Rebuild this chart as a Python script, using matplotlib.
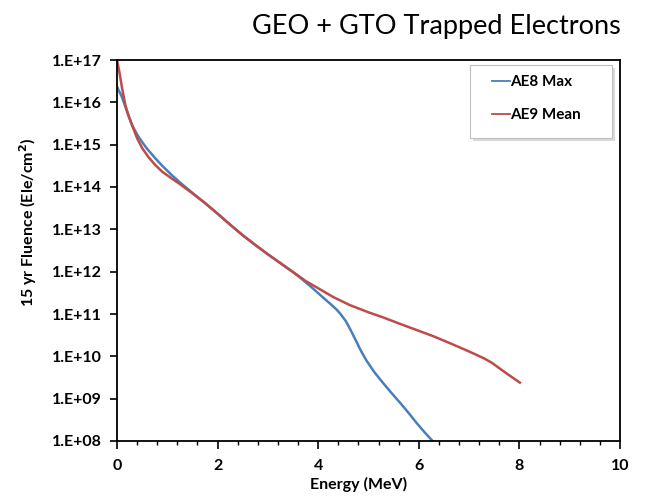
import matplotlib
matplotlib.use("Agg")
import matplotlib.pyplot as plt
import numpy as np
from matplotlib.patches import Rectangle
from matplotlib.ticker import FixedLocator, FuncFormatter, MultipleLocator, LogLocator, NullFormatter

# AE8 Max trapped electron fluence (log10 of ele/cm^2) vs energy (MeV)
ae8_energy = [0.0, 0.1, 0.2, 0.3, 0.4, 0.5, 0.6, 0.76, 0.9, 1.09, 1.25, 1.5, 1.75, 2.0,
              2.25, 2.5, 2.75, 3.0, 3.25, 3.5, 3.64, 3.85, 4.04, 4.25, 4.37, 4.45, 4.55,
              4.65, 4.75, 4.85, 4.96, 5.12, 5.29, 5.46, 5.63, 5.8, 5.96, 6.12, 6.29]
ae8_log_fluence = [16.37, 16.12, 15.78, 15.46, 15.24, 15.06, 14.90, 14.68, 14.50, 14.28,
                   14.11, 13.86, 13.62, 13.37, 13.11, 12.86, 12.63, 12.41, 12.20, 11.99,
                   11.86, 11.65, 11.45, 11.23, 11.10, 10.99, 10.83, 10.61, 10.37, 10.13,
                   9.90, 9.62, 9.37, 9.13, 8.90, 8.66, 8.42, 8.20, 7.98]

# AE9 Mean trapped electron fluence
ae9_energy = [0.0, 0.05, 0.1, 0.165, 0.23, 0.3, 0.4, 0.5, 0.63, 0.76, 0.9, 1.09, 1.25, 1.5,
              1.75, 2.0, 2.25, 2.5, 2.75, 3.0, 3.25, 3.5, 3.75, 4.04, 4.3, 4.63, 5.0,
              5.29, 5.62, 5.96, 6.3, 6.62, 6.95, 7.1, 7.3, 7.45, 7.6, 7.8, 8.01]
ae9_log_fluence = [17.0, 16.7, 16.34, 15.94, 15.68, 15.46, 15.15, 14.92, 14.70, 14.52,
                   14.36, 14.20, 14.07, 13.85, 13.62, 13.37, 13.11, 12.86, 12.63, 12.41,
                   12.20, 11.99, 11.78, 11.58, 11.40, 11.21, 11.04, 10.92, 10.77, 10.62,
                   10.47, 10.31, 10.14, 10.06, 9.95, 9.85, 9.72, 9.55, 9.38]

series_names = ["AE8 Max", "AE9 Mean"]
x_ticks = [0, 2, 4, 6, 8, 10]
y_exponents = list(range(8, 18))

plt.rcParams['font.family'] = ['Lato', 'DejaVu Sans']

W, H = 652, 499
fig = plt.figure(figsize=(W / 100, H / 100), dpi=100)
ax = fig.add_axes([117 / W, 1 - 441 / H, (620 - 117) / W, (441 - 60) / H])

ax.plot(ae8_energy, 10 ** np.array(ae8_log_fluence), color="#4A7EBB", lw=1.8,
        label=series_names[0])
ax.plot(ae9_energy, 10 ** np.array(ae9_log_fluence), color="#BE4B48", lw=1.8,
        label=series_names[1])

ax.set_yscale("log")
ax.set_xlim(0, 10)
ax.set_ylim(1e8, 1e17)

ax.xaxis.set_major_locator(FixedLocator(x_ticks))
ax.xaxis.set_minor_locator(MultipleLocator(0.4))
ax.yaxis.set_major_locator(FixedLocator([10.0 ** e for e in y_exponents]))
ax.yaxis.set_minor_locator(LogLocator(base=10, subs=np.arange(2, 10)))
ax.yaxis.set_minor_formatter(NullFormatter())
ax.yaxis.set_major_formatter(FuncFormatter(lambda v, p: "1.E+%02d" % int(round(np.log10(v)))))

ax.tick_params(axis="both", which="major", direction="out", length=5, width=1.2,
               labelsize=11.5, colors="black", pad=6)
ax.tick_params(axis="both", which="minor", direction="out", length=3, width=1.0)
ax.tick_params(axis="x", which="major", length=6, pad=7)
for lbl in ax.get_xticklabels() + ax.get_yticklabels():
    lbl.set_fontweight("bold")

for sp in ax.spines.values():
    sp.set_linewidth(1.3)
    sp.set_color("black")

ax.set_xlabel("Energy (MeV)", fontsize=11.5, fontweight="bold")
ax.xaxis.set_label_coords(0.481, -0.095)
ax.xaxis.label.set_verticalalignment("top")
ax.set_ylabel("15 yr Fluence (Ele/cm$^\\mathbf{2}$)", fontsize=11.5, fontweight="bold")
ax.yaxis.set_label_coords(-0.155, 0.575)

# legend box with a soft drop shadow
fig.patches.append(Rectangle((473 / W, 1 - 141 / H), 142 / W, 73 / H,
                             transform=fig.transFigure, facecolor="#D9D9D9",
                             edgecolor="none", zorder=5))
fig.patches.append(Rectangle((470 / W, 1 - 138 / H), 142 / W, 73 / H,
                             transform=fig.transFigure, facecolor="white",
                             edgecolor="#BFBFBF", linewidth=0.8, zorder=6))
leg = fig.legend(loc="upper left", bbox_to_anchor=(492 / W, 1 - 75 / H), fontsize=11,
                 frameon=False, handlelength=1.15, handletextpad=0.05,
                 labelspacing=1.25, borderpad=0.0, borderaxespad=0.0)
leg.set_zorder(7)
for t in leg.get_texts():
    t.set_fontweight("bold")
for h in leg.get_lines():
    h.set_linewidth(1.3)

fig.text(436 / W, 1 - 34 / H, "GEO + GTO Trapped Electrons", ha="center",
         va="baseline", fontsize=19.5)

fig.savefig("out.png", dpi=100)
